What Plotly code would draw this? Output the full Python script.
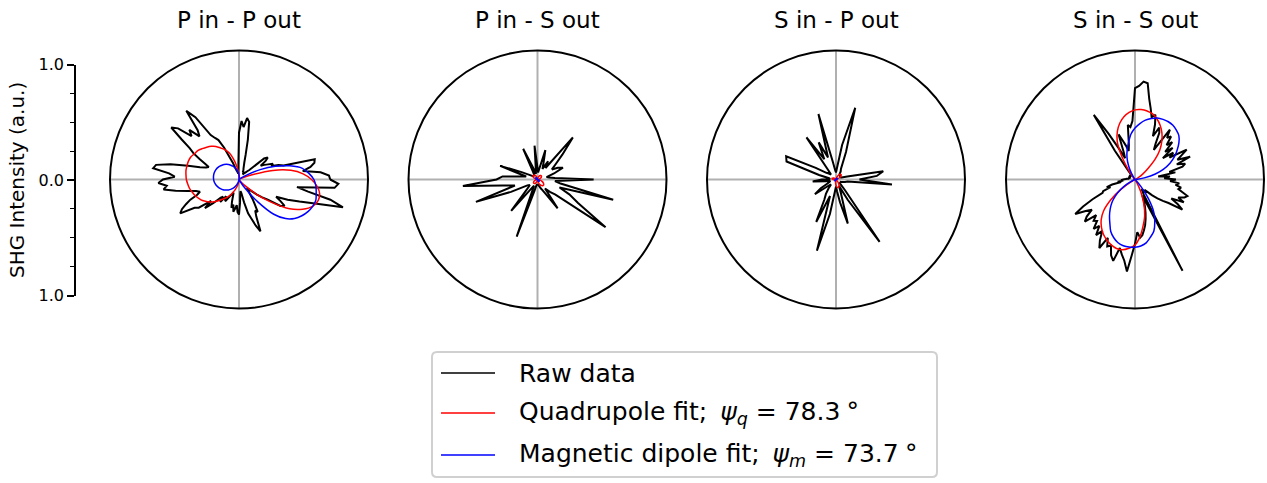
import plotly.graph_objects as go

W, H = 1267, 483

# ---------------- data ----------------
theta = [i * 5.0 for i in range(72)]        # 5 degree grid
theta_fine = [i * 2.5 for i in range(144)]  # 2.5 degree grid

panel_titles = ["P in - P out", "P in - S out", "S in - P out", "S in - S out"]

# P in - P out raw data (2.5 degree steps)
raw_pp = [0.78, 0.77, 0.70, 0.55, 0.62, 0.66, 0.67, 0.40, 0.36, 0.30, 0.32, 0.28,
          0.25, 0.22, 0.28, 0.31, 0.28, 0.12, 0.10, 0.08, 0.07, 0.06, 0.06, 0.07,
          0.08, 0.07, 0.09, 0.10, 0.12, 0.15, 0.22, 0.35, 0.50, 0.53, 0.45, 0.50,
          0.40, 0.12, 0.06, 0.05, 0.06, 0.07, 0.08, 0.10, 0.15, 0.20, 0.30, 0.38,
          0.41, 0.45, 0.65, 0.74, 0.55, 0.50, 0.60, 0.55, 0.68, 0.73, 0.60, 0.50,
          0.45, 0.38, 0.32, 0.28, 0.30, 0.35, 0.45, 0.60, 0.72, 0.74, 0.60, 0.55,
          0.65, 0.69, 0.62, 0.65, 0.55, 0.45, 0.38, 0.35, 0.38, 0.45, 0.50, 0.55,
          0.58, 0.45, 0.42, 0.30, 0.38, 0.30, 0.22, 0.20, 0.25, 0.18, 0.20, 0.22,
          0.18, 0.15, 0.14, 0.12, 0.15, 0.20, 0.25, 0.22, 0.28, 0.25, 0.22, 0.28,
          0.30, 0.20, 0.12, 0.10, 0.12, 0.20, 0.30, 0.35, 0.42, 0.48, 0.35, 0.30,
          0.32, 0.25, 0.20, 0.15, 0.12, 0.10, 0.12, 0.15, 0.20, 0.25, 0.30, 0.42,
          0.45, 0.40, 0.35, 0.45, 0.55, 0.68, 0.92, 0.80, 0.60, 0.50, 0.82, 0.85]
# P in - S out raw data (5 degree steps)
raw_ps = [0.48, 0.15, 0.10, 0.08, 0.15, 0.24, 0.20, 0.15, 0.20, 0.30, 0.47, 0.12,
          0.18, 0.10, 0.15, 0.26, 0.10, 0.06, 0.10, 0.29, 0.08, 0.05, 0.10, 0.29,
          0.08, 0.05, 0.04, 0.05, 0.04, 0.05, 0.08, 0.15, 0.34, 0.10, 0.15, 0.30,
          0.35, 0.64, 0.30, 0.20, 0.56, 0.25, 0.10, 0.08, 0.10, 0.15, 0.35, 0.10,
          0.06, 0.10, 0.52, 0.10, 0.05, 0.04, 0.05, 0.04, 0.05, 0.06, 0.08, 0.10,
          0.15, 0.30, 0.10, 0.15, 0.20, 0.71, 0.40, 0.30, 0.20, 0.67, 0.20, 0.15]
# S in - P out raw data (5 degree steps)
raw_sp = [0.20, 0.35, 0.41, 0.10, 0.05, 0.04, 0.05, 0.04, 0.05, 0.04, 0.06, 0.05,
          0.08, 0.10, 0.25, 0.635, 0.30, 0.10, 0.06, 0.08, 0.15, 0.58, 0.20, 0.35,
          0.20, 0.44, 0.10, 0.06, 0.08, 0.10, 0.20, 0.47, 0.45, 0.15, 0.06, 0.05,
          0.12, 0.20, 0.08, 0.05, 0.06, 0.08, 0.15, 0.22, 0.08, 0.06, 0.10, 0.15,
          0.20, 0.40, 0.15, 0.63, 0.30, 0.10, 0.06, 0.10, 0.20, 0.39, 0.12, 0.06,
          0.20, 0.65, 0.12, 0.05, 0.04, 0.05, 0.04, 0.05, 0.06, 0.08, 0.10, 0.48]
# S in - S out raw data (2.5 degree steps)
raw_ss = [0.35, 0.25, 0.30, 0.20, 0.35, 0.30, 0.42, 0.45, 0.38, 0.51, 0.40, 0.45,
          0.51, 0.35, 0.40, 0.30, 0.42, 0.35, 0.45, 0.40, 0.48, 0.45, 0.52, 0.30,
          0.35, 0.45, 0.49, 0.40, 0.50, 0.58, 0.55, 0.62, 0.70, 0.83, 0.84, 0.80,
          0.78, 0.50, 0.45, 0.47, 0.30, 0.25, 0.30, 0.35, 0.41, 0.25, 0.20, 0.30,
          0.45, 0.655, 0.30, 0.08, 0.06, 0.05, 0.04, 0.05, 0.04, 0.05, 0.06, 0.05,
          0.04, 0.05, 0.06, 0.05, 0.04, 0.05, 0.06, 0.05, 0.06, 0.05, 0.07, 0.08,
          0.10, 0.12, 0.10, 0.15, 0.12, 0.20, 0.25, 0.22, 0.29, 0.30, 0.40, 0.50,
          0.59, 0.50, 0.45, 0.52, 0.56, 0.45, 0.50, 0.48, 0.55, 0.50, 0.58, 0.52,
          0.60, 0.66, 0.55, 0.62, 0.60, 0.68, 0.72, 0.60, 0.65, 0.70, 0.79, 0.65,
          0.55, 0.45, 0.50, 0.48, 0.44, 0.40, 0.35, 0.30, 0.25, 0.20, 0.15, 0.88,
          0.15, 0.12, 0.10, 0.12, 0.15, 0.12, 0.15, 0.20, 0.25, 0.30, 0.35, 0.48,
          0.42, 0.35, 0.46, 0.40, 0.45, 0.47, 0.42, 0.38, 0.40, 0.35, 0.38, 0.30]

quad_pp = [0.62, 0.55, 0.45, 0.30, 0.12, 0.04, 0.02, 0.01, 0.0, 0.0, 0.0, 0.0,
           0.0, 0.0, 0.0, 0.0, 0.01, 0.02, 0.04, 0.07, 0.12, 0.18, 0.24, 0.28,
           0.31, 0.345, 0.37, 0.39, 0.41, 0.43, 0.44, 0.455, 0.46, 0.46, 0.46, 0.455,
           0.45, 0.44, 0.43, 0.415, 0.40, 0.38, 0.36, 0.33, 0.30, 0.26, 0.22, 0.19,
           0.16, 0.12, 0.09, 0.06, 0.04, 0.02, 0.01, 0.0, 0.0, 0.0, 0.0, 0.0,
           0.0, 0.01, 0.03, 0.08, 0.20, 0.34, 0.50, 0.60, 0.67, 0.70, 0.70, 0.67]
dip_pp = [0.64, 0.60, 0.55, 0.45, 0.33, 0.20, 0.08, 0.02, 0.0, 0.0, 0.0, 0.0,
          0.0, 0.0, 0.0, 0.0, 0.0, 0.019, 0.038, 0.057, 0.075, 0.093, 0.11, 0.126,
          0.141, 0.156, 0.169, 0.18, 0.19, 0.20, 0.207, 0.213, 0.217, 0.219, 0.22, 0.219,
          0.217, 0.213, 0.207, 0.20, 0.19, 0.18, 0.169, 0.156, 0.141, 0.126, 0.11, 0.093,
          0.075, 0.057, 0.038, 0.019, 0.0, 0.0, 0.0, 0.0, 0.0, 0.0, 0.0, 0.0,
          0.02, 0.10, 0.25, 0.42, 0.52, 0.58, 0.62, 0.65, 0.67, 0.68, 0.67, 0.66]

quad_ps = [0.0, 0.002, 0.007, 0.014, 0.022, 0.03, 0.037, 0.041, 0.044, 0.045, 0.044, 0.041,
           0.037, 0.03, 0.022, 0.014, 0.007, 0.002,
           0.0, 0.002, 0.008, 0.016, 0.025, 0.034, 0.041, 0.046, 0.049, 0.05, 0.049, 0.046,
           0.041, 0.034, 0.025, 0.016, 0.008, 0.002,
           0.0, 0.002, 0.007, 0.014, 0.022, 0.03, 0.037, 0.041, 0.044, 0.045, 0.044, 0.041,
           0.037, 0.03, 0.022, 0.014, 0.007, 0.002,
           0.0, 0.003, 0.011, 0.022, 0.035, 0.048, 0.057, 0.064, 0.069, 0.07, 0.069, 0.064,
           0.057, 0.048, 0.035, 0.022, 0.011, 0.003]
dip_ps = [0.0, 0.0, 0.0, 0.0, 0.0, 0.0, 0.0, 0.0, 0.0, 0.0, 0.0, 0.0,
          0.0, 0.0, 0.0, 0.0, 0.0, 0.0,
          0.0, 0.002, 0.005, 0.009, 0.013, 0.016, 0.018, 0.019, 0.02, 0.02, 0.02, 0.019,
          0.018, 0.016, 0.013, 0.009, 0.005, 0.002,
          0.0, 0.0, 0.0, 0.0, 0.0, 0.0, 0.0, 0.0, 0.0, 0.0, 0.0, 0.0,
          0.0, 0.0, 0.0, 0.0, 0.0, 0.0,
          0.0, 0.002, 0.005, 0.009, 0.013, 0.016, 0.018, 0.019, 0.02, 0.02, 0.02, 0.019,
          0.018, 0.016, 0.013, 0.009, 0.005, 0.002]

quad_sp = [0.0, 0.0, 0.0, 0.0, 0.016, 0.03, 0.042, 0.052, 0.058, 0.06, 0.058, 0.052,
           0.042, 0.03, 0.016, 0.0, 0.0, 0.0, 0.0, 0.0, 0.0, 0.0, 0.0, 0.0,
           0.0, 0.0, 0.0, 0.0, 0.009, 0.018, 0.025, 0.03, 0.034, 0.035, 0.034, 0.03,
           0.025, 0.018, 0.009, 0.0, 0.0, 0.0, 0.0, 0.0, 0.0, 0.0, 0.0, 0.0,
           0.0, 0.0, 0.0, 0.0, 0.018, 0.035, 0.05, 0.061, 0.068, 0.07, 0.068, 0.061,
           0.05, 0.035, 0.018, 0.0, 0.0, 0.0, 0.0, 0.0, 0.0, 0.0, 0.0, 0.0]
dip_sp = [0.0, 0.0, 0.002, 0.005, 0.008, 0.011, 0.013, 0.014, 0.015, 0.015, 0.015, 0.014,
          0.013, 0.011, 0.008, 0.005, 0.002, 0.0, 0.0, 0.0, 0.0, 0.0, 0.0, 0.0,
          0.0, 0.0, 0.0, 0.0, 0.0, 0.0, 0.0, 0.0, 0.0, 0.0, 0.0, 0.0,
          0.0, 0.0, 0.002, 0.005, 0.008, 0.011, 0.013, 0.014, 0.015, 0.015, 0.015, 0.014,
          0.013, 0.011, 0.008, 0.005, 0.002, 0.0, 0.0, 0.0, 0.0, 0.0, 0.0, 0.0,
          0.0, 0.0, 0.0, 0.0, 0.0, 0.0, 0.0, 0.0, 0.0, 0.0, 0.0, 0.0]

quad_ss = [0.0, 0.0, 0.0, 0.0, 0.0, 0.01, 0.03, 0.08, 0.14, 0.24, 0.33, 0.40,
           0.46, 0.51, 0.55, 0.58, 0.595, 0.60, 0.595, 0.575, 0.545, 0.50, 0.44, 0.36,
           0.22, 0.09, 0.02, 0.0, 0.0, 0.0, 0.0, 0.0, 0.0, 0.0, 0.0, 0.0,
           0.0, 0.0, 0.0, 0.0, 0.0, 0.0, 0.04, 0.15, 0.27, 0.38, 0.45, 0.50,
           0.54, 0.57, 0.595, 0.61, 0.61, 0.59, 0.56, 0.49, 0.40, 0.32, 0.22, 0.12,
           0.04, 0.0, 0.0, 0.0, 0.0, 0.0, 0.0, 0.0, 0.0, 0.0, 0.0, 0.0]
dip_ss = [0.0, 0.02, 0.08, 0.18, 0.26, 0.33, 0.39, 0.44, 0.49, 0.53, 0.55, 0.565,
          0.57, 0.567, 0.56, 0.54, 0.515, 0.48, 0.44, 0.39, 0.32, 0.26, 0.20, 0.13,
          0.06, 0.01, 0.0, 0.0, 0.0, 0.0, 0.0, 0.0, 0.0, 0.0, 0.0, 0.0,
          0.0, 0.0, 0.0, 0.0, 0.0, 0.02, 0.08, 0.15, 0.22, 0.28, 0.33, 0.38,
          0.43, 0.49, 0.53, 0.56, 0.575, 0.58, 0.578, 0.57, 0.55, 0.51, 0.47, 0.40,
          0.32, 0.20, 0.08, 0.01, 0.0, 0.0, 0.0, 0.0, 0.0, 0.0, 0.0, 0.0]

raw_sets = [(theta_fine, raw_pp), (theta, raw_ps), (theta, raw_sp), (theta_fine, raw_ss)]
quad_sets = [quad_pp, quad_ps, quad_sp, quad_ss]
dip_sets = [dip_pp, dip_ps, dip_sp, dip_ss]

legend_labels = ["Raw data",
                 "Quadrupole fit;\u2009 <i>ψ</i><sub><i>q</i></sub> = 78.3\u2005°",
                 "Magnetic dipole fit;\u2009 <i>ψ</i><sub><i>m</i></sub> = 73.7\u2005°"]
axis_ticks = [-1.0, 0.0, 1.0]
axis_ticktext = ["1.0", "0.0", "1.0"]
axis_minor = [-0.75, -0.5, -0.25, 0.25, 0.5, 0.75]

# ---------------- style / layout ----------------
FONT = "DejaVu Sans"
centers_x = [239.0, 537.5, 836.0, 1135.0]
cy = 179.5
R = 129.0
RMAX = R / 117.0
colors = ["black", "red", "blue"]
widths = [2.0, 1.5, 1.5]


def closed(seq):
    return list(seq) + [seq[0]]


fig = go.Figure()
layout = dict(
    template="none",
    width=W, height=H, autosize=False,
    margin=dict(l=0, r=0, t=0, b=0, pad=0, autoexpand=False),
    paper_bgcolor="white", plot_bgcolor="rgba(0,0,0,0)",
    showlegend=False,
    font=dict(family=FONT, color="black"),
)

for i in range(4):
    key = "polar" if i == 0 else f"polar{i + 1}"
    cx = centers_x[i]
    layout[key] = dict(
        domain=dict(x=[(cx - R) / W, (cx + R) / W], y=[(H - cy - R) / H, (H - cy + R) / H]),
        bgcolor="white",
        radialaxis=dict(visible=False, range=[0, RMAX], showgrid=False),
        angularaxis=dict(showline=True, linecolor="black", linewidth=2,
                         showgrid=True, gridcolor="#b0b0b0", gridwidth=1.5,
                         tickmode="array", tickvals=[0, 90, 180, 270],
                         showticklabels=False, ticks="",
                         rotation=0, direction="counterclockwise"),
    )
    th_raw, r_raw = raw_sets[i]
    fig.add_trace(go.Scatterpolar(
        r=closed(r_raw), theta=closed(th_raw), mode="lines",
        line=dict(color=colors[0], width=widths[0]),
        subplot=key, showlegend=False, hoverinfo="skip"))
    for s, series in ((1, quad_sets[i]), (2, dip_sets[i])):
        fig.add_trace(go.Scatterpolar(
            r=closed(series), theta=closed(theta), mode="lines",
            line=dict(color=colors[s], width=widths[s], shape="spline", smoothing=0.8),
            subplot=key, showlegend=False, hoverinfo="skip"))

# left intensity axis
fig.add_trace(go.Scatter(x=[None], y=[None], xaxis="x", yaxis="y",
                         showlegend=False, hoverinfo="skip"))
ax_top, ax_bot = 64.5, 295.5
layout["xaxis"] = dict(domain=[0, 0.05], visible=False, range=[0, 1], automargin=False)
layout["yaxis"] = dict(
    domain=[(H - ax_bot) / H, (H - ax_top) / H], range=[-1, 1],
    anchor="free", position=75 / W, side="left", automargin=False,
    showline=True, linecolor="black", linewidth=1.5,
    ticks="outside", ticklen=7, tickwidth=1.5, tickcolor="black",
    tickmode="array", tickvals=axis_ticks, ticktext=axis_ticktext,
    tickfont=dict(size=16, color="black", family=FONT),
    showgrid=False, zeroline=False,
    minor=dict(tickmode="array", tickvals=axis_minor, ticks="outside",
               ticklen=4, tickwidth=1.2, tickcolor="black", showgrid=False),
)

annotations = []
for i in range(4):
    annotations.append(dict(text=panel_titles[i], x=centers_x[i] / W, y=1 - 20.5 / H,
                            xref="paper", yref="paper", xanchor="center", yanchor="middle",
                            showarrow=False, font=dict(size=23, family=FONT, color="black")))
annotations.append(dict(text="SHG Intensity (a.u.)", x=17 / W, y=1 - 180 / H,
                        xref="paper", yref="paper", xanchor="center", yanchor="middle",
                        textangle=-90, showarrow=False,
                        font=dict(size=20, family=FONT, color="black")))

# legend (drawn manually to match the framed legend)
shapes = []
bx0, bx1, by0, by1, rr = 432, 937, 352, 477, 5


def px(x):
    return x / W


def py(y):
    return 1 - y / H


path = (f"M {px(bx0 + rr)},{py(by0)} L {px(bx1 - rr)},{py(by0)} "
        f"Q {px(bx1)},{py(by0)} {px(bx1)},{py(by0 + rr)} "
        f"L {px(bx1)},{py(by1 - rr)} Q {px(bx1)},{py(by1)} {px(bx1 - rr)},{py(by1)} "
        f"L {px(bx0 + rr)},{py(by1)} Q {px(bx0)},{py(by1)} {px(bx0)},{py(by1 - rr)} "
        f"L {px(bx0)},{py(by0 + rr)} Q {px(bx0)},{py(by0)} {px(bx0 + rr)},{py(by0)} Z")
shapes.append(dict(type="path", path=path, xref="paper", yref="paper",
                   line=dict(color="#d0d0d0", width=2), fillcolor="white"))
row_y = [373, 413, 455]
for k in range(3):
    shapes.append(dict(type="line", xref="paper", yref="paper",
                       x0=px(441), x1=px(495), y0=py(row_y[k]), y1=py(row_y[k]),
                       line=dict(color=colors[k], width=1.5)))
    annotations.append(dict(text=legend_labels[k], x=px(517), y=py(row_y[k]),
                            xref="paper", yref="paper", xanchor="left", yanchor="middle",
                            showarrow=False, font=dict(size=25, family=FONT, color="black")))

layout["annotations"] = annotations
layout["shapes"] = shapes
fig.update_layout(**layout)

fig.write_html("out.html", config={"displayModeBar": False},
               post_script="document.body.style.margin='0';")
